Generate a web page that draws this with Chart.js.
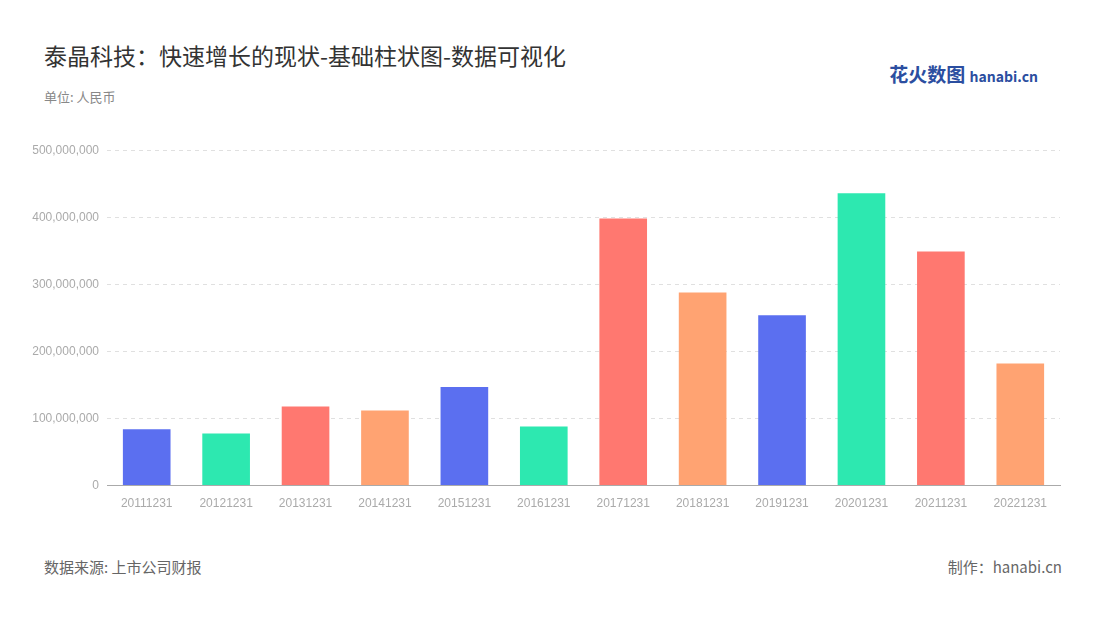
<!DOCTYPE html>
<html><head><meta charset="utf-8">
<script src="https://cdn.jsdelivr.net/npm/chart.js@4/dist/chart.umd.min.js"></script>
<style>
body{margin:0;width:1100px;height:620px;background:#fff;font-family:"Noto Sans CJK SC","Noto Sans",sans-serif;position:relative;overflow:hidden}
#title{position:absolute;left:44px;top:38px;font-size:23px;color:#333}
#unit{position:absolute;left:44px;top:87px;font-size:13px;color:#888}
#src{position:absolute;left:44px;top:556px;font-size:15px;color:#666}
#made{position:absolute;right:38px;top:556px;font-size:15px;color:#666}
#logo{position:absolute;right:62px;top:60px;font-size:19px;font-weight:bold;color:#2b4ea0}
#logo span{font-size:14px;color:#2b4ea0}
#wrap{position:absolute;left:30px;top:135px;width:1040px;height:379px}
</style></head><body>
<div id="title">泰晶科技：快速增长的现状-基础柱状图-数据可视化</div>
<div id="unit">单位: 人民币</div>
<div id="logo">花火数图 <span>hanabi.cn</span></div>
<div id="wrap"><canvas id="c"></canvas></div>
<div id="src">数据来源: 上市公司财报</div>
<div id="made">制作：hanabi.cn</div>
<script>
const categories=["20111231","20121231","20131231","20141231","20151231","20161231","20171231","20181231","20191231","20201231","20211231","20221231"];
const values=[84000000,77500000,118000000,112000000,147000000,88000000,398000000,288000000,254000000,436000000,349000000,182000000];
const palette=["#5b6ff0","#2de8b0","#ff7870","#ffa372"];
new Chart(document.getElementById("c"),{type:"bar",
data:{labels:categories,datasets:[{data:values,backgroundColor:categories.map((_,i)=>palette[i%4]),barPercentage:0.6,categoryPercentage:1}]},
options:{responsive:true,maintainAspectRatio:false,animation:false,
plugins:{legend:{display:false},tooltip:{enabled:false}},
layout:{padding:{right:10}},
scales:{x:{grid:{display:false},border:{color:"#aaa"},ticks:{color:"#aaa",font:{size:12},maxRotation:0}},
y:{min:0,max:500000000,ticks:{stepSize:100000000,color:"#aaa",font:{size:12},padding:8,callback:v=>v.toLocaleString("en-US")},
grid:{color:"#e0e0e0",drawTicks:false},border:{display:false,dash:[4,4]},afterFit:a=>{a.width=77}}}}});
</script></body></html>
